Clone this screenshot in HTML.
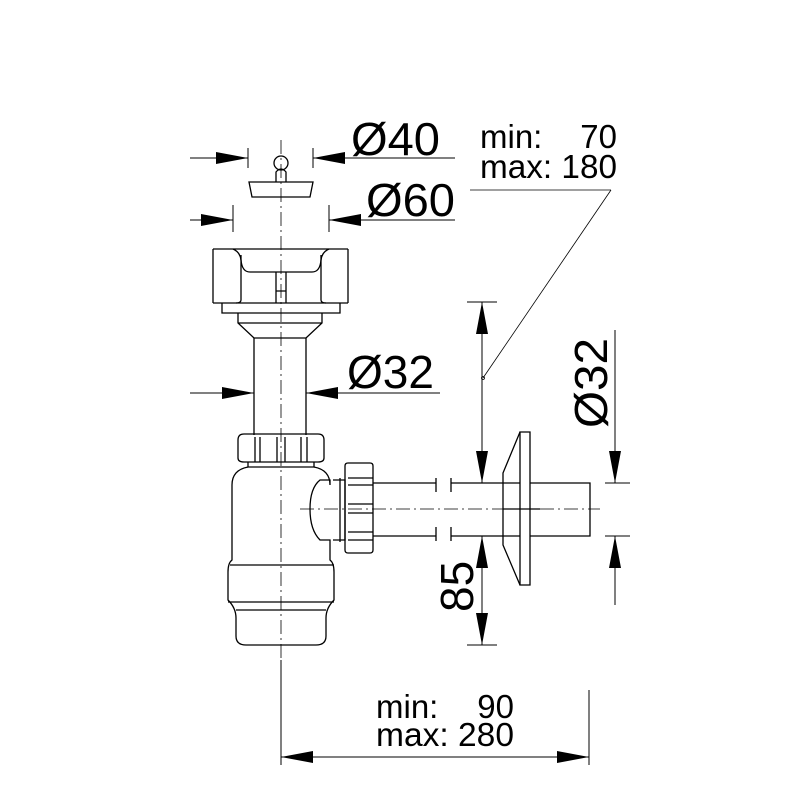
<!DOCTYPE html>
<html><head><style>html,body{margin:0;padding:0;background:#fff}svg{display:block}</style></head><body>
<svg width="800" height="800" viewBox="0 0 800 800" xmlns="http://www.w3.org/2000/svg" font-family="Liberation Sans, sans-serif">
<defs>
<marker id="a" viewBox="0 0 32 12" refX="32" refY="6" markerWidth="32" markerHeight="12" markerUnits="userSpaceOnUse" orient="auto-start-reverse"><path d="M0,0L32,6L0,12z" fill="#000"/></marker>
</defs>
<g fill="none" stroke="#000" stroke-width="1.3">
<path d="M281 140V660" stroke-width="0.8" stroke-dasharray="14 4 2 4"/>
<path d="M300 509H600" stroke-width="0.8" stroke-dasharray="14 4 2 4"/>
<circle cx="281" cy="163" r="7"/>
<path d="M276 182V172Q281 166 286 172V182"/>
<path d="M249 182H313L310 197H252Z"/>
<path d="M213 249V303M348 249V303M213 249H348M213 303H348"/>
<path d="M233 249Q240 252 241 260Q242 272 250 272H312Q320 272 321 260Q322 252 329 249"/>
<path d="M241 255V300Q241 303 236 303M321 255V300Q321 303 326 303"/>
<path d="M276 272V303M286 272V303M276 291H286"/>
<path d="M222 303V313H340V303"/>
<path d="M238 313V323L254 338H306L322 323V313M238 323H322"/>
<path d="M254 338V435M306 338V435"/>
<path d="M238 440Q238 434 244 434H318Q324 434 324 440V458Q324 462 318 462H244Q238 462 238 458Z"/>
<path d="M255 437V462M260 437V462M277 437V462M285 437V462M301 437V462M307 437V462"/>
<path d="M248 462V467H314V462"/>
<path d="M248 467Q232 470 232 485V560Q228 563 228 572V600Q236 608 236 618V636Q236 645 246 645H316Q326 645 326 636V618Q326 608 334 600V572Q334 563 330 560V540H320Q310 530 310 509Q310 488 320 480H330V485Q330 470 314 467"/>
<path d="M230 565H334M228 602H334M236 610H326"/>
<path d="M333 480H345V540H333"/>
<path d="M340 478V542"/>
<path d="M345 466Q345 463 348 463H370Q373 463 373 466V550Q373 553 370 553H348Q345 553 345 550Z"/>
<path d="M348 478H373M348 485H373M348 504H373M348 513H373M348 532H373M348 540H373"/>
<path d="M373 483H436M373 536H436M436 478V492M436 527V541M451 478V492M451 527V541M451 483H520M451 536H520"/>
<path d="M520 432H530V585H520Z"/>
<path d="M520 432L503 473V545L520 585"/>
<path d="M530 483H590V536H530"/>
<path d="M503 509H540" />
<path d="M190 158H248" marker-end="url(#a)" stroke-width="1"/>
<path d="M345 158H313" marker-end="url(#a)" stroke-width="1"/>
<path d="M345 158H455M248 148V168M313 148V168" stroke-width="1"/>
<path d="M190 220H233" marker-end="url(#a)" stroke-width="1"/>
<path d="M362 220H329" marker-end="url(#a)" stroke-width="1"/>
<path d="M362 220H455M233 205V232M329 205V232" stroke-width="1"/>
<path d="M190 393H254" marker-end="url(#a)" stroke-width="1"/>
<path d="M340 393H306" marker-end="url(#a)" stroke-width="1"/>
<path d="M340 393H440" stroke-width="1"/>
<path d="M467 302H497M467 645H497" stroke-width="1"/>
<path d="M482 302V483" marker-start="url(#a)" marker-end="url(#a)" stroke-width="1"/>
<path d="M482 536V645" marker-start="url(#a)" marker-end="url(#a)" stroke-width="1"/>
<path d="M483 378L611 190" stroke-width="0.8"/>
<circle cx="483" cy="378" r="1.5" stroke-width="0.8"/>
<path d="M470 190H611" stroke-width="0.8"/>
<path d="M615 330V483" marker-end="url(#a)" stroke-width="1"/>
<path d="M615 605V536" marker-end="url(#a)" stroke-width="1"/>
<path d="M605 483H630M605 536H630" stroke-width="1"/>
<path d="M281 660V765M589 690V765" stroke-width="1"/>
<path d="M281 757H589" marker-start="url(#a)" marker-end="url(#a)" stroke-width="1"/>
</g>
<g fill="#000">
<text x="351" y="155" font-size="46" textLength="89" lengthAdjust="spacingAndGlyphs">Ø40</text>
<text x="366" y="216" font-size="46" textLength="89" lengthAdjust="spacingAndGlyphs">Ø60</text>
<text x="347" y="388" font-size="46" textLength="87" lengthAdjust="spacingAndGlyphs">Ø32</text>
<text x="480" y="148" font-size="33">min:</text>
<text x="617" y="148" font-size="33" text-anchor="end">70</text>
<text x="480" y="178" font-size="33" textLength="137" lengthAdjust="spacingAndGlyphs">max: 180</text>
<text x="376" y="718" font-size="33">min:</text>
<text x="514" y="718" font-size="33" text-anchor="end">90</text>
<text x="376" y="746" font-size="33" textLength="138" lengthAdjust="spacingAndGlyphs">max: 280</text>
<text transform="translate(473,612) rotate(-90)" font-size="46">85</text>
<text transform="translate(607,428) rotate(-90)" font-size="46" textLength="90" lengthAdjust="spacingAndGlyphs">Ø32</text>
</g>
</svg>
</body></html>
